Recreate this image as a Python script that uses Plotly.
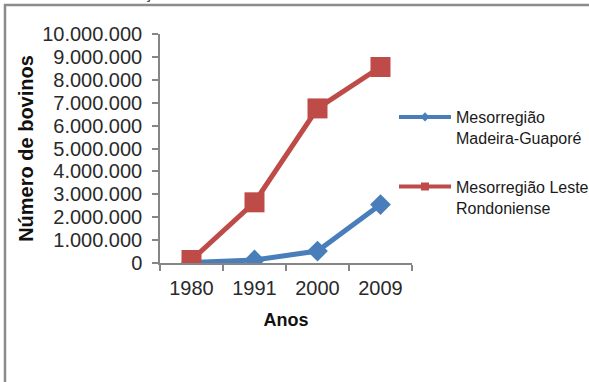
import plotly.graph_objects as go

# Rebanho bovino por mesorregião (Rondônia)
anos = ["1980", "1991", "2000", "2009"]
madeira_guapore = [20000, 130000, 520000, 2550000]
leste_rondoniense = [130000, 2650000, 6750000, 8560000]
nome_madeira = "Mesorregião<br>Madeira-Guaporé"
nome_leste = "Mesorregião Leste<br>Rondoniense"
y_ticks = list(range(0, 10000001, 1000000))
y_tick_labels = [f"{v:,}".replace(",", ".") for v in y_ticks]

AZUL = "#4A7EBB"
VERMELHO = "#BE4B48"
FONTE = "Liberation Sans, Arial, sans-serif"

W, H = 589, 382
L, R, T, B = 160, 177, 34, 119
pw, ph = W - L - R, H - T - B


def px_x(p):
    return (p - L) / pw


def px_y(p):
    return (H - B - p) / ph


fig = go.Figure()

# Series drawn on the chart (large markers)
fig.add_trace(go.Scatter(
    x=anos, y=madeira_guapore, mode="lines+markers", showlegend=False,
    line=dict(color=AZUL, width=5),
    marker=dict(symbol="diamond", size=16, color=AZUL),
))
fig.add_trace(go.Scatter(
    x=anos, y=leste_rondoniense, mode="lines+markers", showlegend=False,
    line=dict(color=VERMELHO, width=5),
    marker=dict(symbol="square", size=20, color=VERMELHO),
))

# Legend entries with small markers
fig.add_trace(go.Scatter(
    x=[None], y=[None], mode="lines+markers", name=nome_madeira,
    legendgroup="a",
    line=dict(color=AZUL, width=4),
    marker=dict(symbol="diamond", size=7, color=AZUL),
))
fig.add_trace(go.Scatter(
    x=[None], y=[None], mode="lines+markers", name=nome_leste,
    legendgroup="b",
    line=dict(color=VERMELHO, width=4),
    marker=dict(symbol="square", size=8, color=VERMELHO),
))

fig.update_layout(
    width=W, height=H,
    margin=dict(l=L, r=R, t=T, b=B, autoexpand=False),
    paper_bgcolor="white", plot_bgcolor="white",
    font=dict(family=FONTE, color="#222222"),
    showlegend=True,
    legend=dict(
        xref="container", yref="container",
        x=394 / W, y=1 - 100 / H, xanchor="left", yanchor="top",
        font=dict(size=16, color="#1a1a1a"),
        valign="top", tracegroupgap=25, itemwidth=52,
        bgcolor="rgba(0,0,0,0)",
    ),
    xaxis=dict(
        type="category", range=[-0.5, 3.5],
        showline=True, linecolor="#868686", linewidth=1.5,
        ticks="outside", tickson="boundaries", ticklen=6,
        tickcolor="#868686", tickwidth=1.5,
        tickfont=dict(size=20, color="#2a2a2a"),
        ticklabelstandoff=6,
        showgrid=False, zeroline=False,
        title=dict(text="<b>Anos</b>", font=dict(size=18, color="#111111"), standoff=16),
    ),
    yaxis=dict(
        range=[0, 10000000],
        tickvals=y_ticks, ticktext=y_tick_labels,
        showline=True, linecolor="#868686", linewidth=1.5,
        ticks="outside", ticklen=6, tickcolor="#868686", tickwidth=1.5,
        tickfont=dict(size=20, color="#2a2a2a"),
        ticklabelstandoff=6,
        showgrid=False, zeroline=False,
        title=dict(text="<b>Número de bovinos</b>", font=dict(size=20, color="#111111"), standoff=3),
    ),
    shapes=[
        dict(type="line", xref="paper", yref="paper",
             x0=px_x(4), x1=px_x(W + 5), y0=px_y(5), y1=px_y(5),
             line=dict(color="#8C8C8C", width=2.5)),
        dict(type="line", xref="paper", yref="paper",
             x0=px_x(5), x1=px_x(5), y0=px_y(4), y1=px_y(H + 5),
             line=dict(color="#8C8C8C", width=2.5)),
    ],
    annotations=[
        dict(text="ç", xref="paper", yref="paper", x=px_x(148), y=px_y(4),
             xanchor="center", yanchor="bottom", showarrow=False,
             font=dict(size=16, color="#222222")),
    ],
)

fig.write_html("out.html")
